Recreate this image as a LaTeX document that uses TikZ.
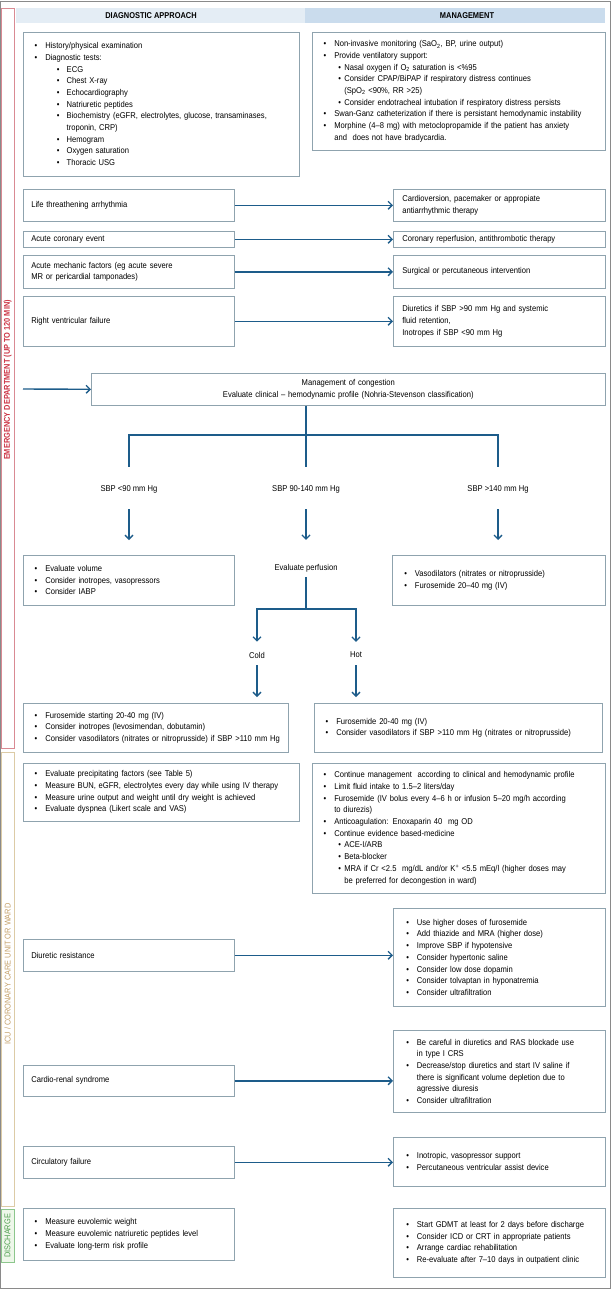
\documentclass[tikz,border=0pt]{standalone}
\usepackage{fontspec}
\setmainfont{Liberation Sans}[FakeStretch=0.9]
\newfontfamily\hdfont{Liberation Sans}[FakeStretch=0.88]
\usetikzlibrary{arrows.meta}
\definecolor{boxc}{HTML}{8FA3AE}
\definecolor{arrc}{HTML}{1D5C8A}
\definecolor{hdl}{HTML}{E4EDF5}
\definecolor{hdr}{HTML}{CADCED}
\definecolor{framec}{HTML}{8A8A8A}
\definecolor{redc}{HTML}{CC3344}
\definecolor{redl}{HTML}{D98A93}
\definecolor{tanc}{HTML}{C4A068}
\definecolor{tanl}{HTML}{DCCBA6}
\definecolor{grc}{HTML}{4E9E4E}
\definecolor{grl}{HTML}{8CC68C}
\definecolor{grbg}{HTML}{EEF7EA}
\newcommand\bodyfont{\fontsize{8.45}{11.67}\selectfont}
\newcommand\itm{\makebox[10.6pt][l]{\textbullet}}
\newcommand\cont{\hspace*{10.6pt}}
\newcommand\sitm{\hspace*{22.2pt}\makebox[9.8pt][l]{\textbullet}}
\newcommand\scont{\hspace*{32pt}}
\newcommand\ritm{\hspace*{14.6pt}\makebox[6pt][l]{\textbullet}}
\newcommand\rscont{\hspace*{20.6pt}}
\tikzset{
  box/.style={draw=boxc, line width=0.6pt, inner ysep=0pt, align=left, font=\bodyfont},
  lbl/.style={inner sep=0pt, font=\bodyfont},
  hd/.style={inner sep=0pt, font=\hdfont\bfseries\fontsize{8.45}{10}\selectfont},
  phase/.style={inner sep=0pt, rotate=90, font=\hdfont\fontsize{8.4}{10}\selectfont},
  conn/.style={draw=arrc, line width=1.4pt},
  arr/.style={conn, -{Straight Barb[length=4pt,width=8pt,line width=1.3pt]}},
}
% #1 opts, #2 name, #3 x1, #4 y1, #5 x2, #6 y2, #7 pad, #8 content
\newcommand\bx[8][]{%
  \pgfmathsetmacro\bxw{#5-(#3)}%
  \pgfmathsetmacro\bxh{#6-(#4)}%
  \pgfmathsetmacro\bxt{#5-(#3)-2*(#7)}%
  \node[box, anchor=north west, inner xsep=#7pt, minimum width=\bxw pt,
        minimum height=\bxh pt, text width=\bxt pt, #1] (#2) at (#3,#4) {#8};}
\begin{document}
\begin{tikzpicture}[x=1pt,y=-1pt]
\useasboundingbox (0,0) rectangle (612,1289);
\fill[white] (0,0) rectangle (612,1289);
% outer frame
\draw[framec, line width=0.8pt] (0.6,1) rectangle (610.6,1288.3);
% header bands
\fill[hdl] (16,8) rectangle (305,23);
\fill[hdr] (305,8) rectangle (605,23);
\node[hd] (h1) at (151,16) {DIAGNOSTIC APPROACH};
\node[hd] (h2) at (467,16) {MANAGEMENT};
% phase brackets
\draw[redl, line width=0.7pt] (1,8) rectangle (14.5,748.5);
\node[phase, text=redc, font=\hdfont\bfseries\fontsize{8.4}{10}\selectfont] (p1) at (7.6,380) {EMERGENCY DEPARTMENT (UP TO 120 MIN)};
\draw[tanl, line width=0.7pt] (1,752) rectangle (14.5,1206);
\node[phase, text=tanc] (p2) at (7.6,974) {ICU / CORONARY CARE UNIT OR WARD};
\draw[grl, line width=0.7pt, fill=grbg] (1,1209) rectangle (14.5,1262);
\node[phase, text=grc] (p3) at (7.6,1236) {DISCHARGE};

% top boxes
\bx{diag}{23}{32}{299}{176}{11.4}{%
\itm History/physical examination\\
\itm Diagnostic tests:\\
\sitm ECG\\
\sitm Chest X-ray\\
\sitm Echocardiography\\
\sitm Natriuretic peptides\\
\sitm Biochemistry (eGFR, electrolytes, glucose, transaminases,\\
\scont troponin, CRP)\\
\sitm Hemogram\\
\sitm Oxygen saturation\\
\sitm Thoracic USG}
\bx{mgmt}{312}{32}{605}{150}{11.4}{%
\itm Non-invasive monitoring (SaO\textsubscript{2}, BP, urine output)\\
\itm Provide ventilatory support:\\
\ritm Nasal oxygen if O\textsubscript{2} saturation is <\%95\\
\ritm Consider CPAP/BiPAP if respiratory distress continues\\
\rscont (SpO\textsubscript{2} <90\%, RR >25)\\
\ritm Consider endotracheal intubation if respiratory distress persists\\
\mbox{\itm Swan-Ganz catheterization if there is persistant hemodynamic instability}\\
\itm Morphine (4--8 mg) with metoclopropamide if the patient has anxiety\\
\cont and\ \ does not have bradycardia.}

% rows
\bx{lt}{23}{189}{234}{221}{8}{Life threathening arrhythmia}
\bx{ltm}{393}{189}{605}{221}{9}{Cardioversion, pacemaker or appropiate\\antiarrhythmic therapy}
\bx{ac}{23}{231}{234}{247}{8}{Acute coronary event}
\bx{acm}{393}{231}{605}{247}{9}{Coronary reperfusion, antithrombotic therapy}
\bx{am}{23}{255}{234}{288}{8}{Acute mechanic factors (eg acute severe\\MR or pericardial tamponades)}
\bx{amm}{393}{255}{605}{288}{9}{Surgical or percutaneous intervention}
\bx{rv}{23}{296}{234}{346}{8}{Right ventricular failure}
\bx{rvm}{393}{296}{605}{346}{9}{Diuretics if SBP >90 mm Hg and systemic\\fluid retention,\\Inotropes if SBP <90 mm Hg}
\draw[arr] (lt.east) -- (ltm.west);
\draw[arr] (ac.east) -- (acm.west);
\draw[arr] (am.east) -- (amm.west);
\draw[arr] (rv.east) -- (rvm.west);

% congestion
\bx[align=center]{cong}{91}{373}{605}{405}{6}{Management of congestion\\Evaluate clinical -- hemodynamic profile (Nohria-Stevenson classification)}
\coordinate (cin) at (23,389);
\draw[arr] (cin) -- (cong.west);

\node[lbl] (s1) at (129,489) {SBP <90 mm Hg};
\node[lbl] (s2) at (306,489) {SBP 90-140 mm Hg};
\node[lbl] (s3) at (498,489) {SBP >140 mm Hg};
\coordinate (j) at (306,435);
\draw[conn] (cong.south -| j) -- (j);
\draw[conn, line cap=rect] (s1 |- j) -- (s3 |- j);
\draw[conn, shorten >=18pt] (s1 |- j) -- (s1.north);
\draw[conn, shorten >=18pt] (j) -- (s2.north);
\draw[conn, shorten >=18pt] (s3 |- j) -- (s3.north);

\bx{vol}{23}{555}{234}{605}{11.4}{%
\itm Evaluate volume\\
\itm Consider inotropes, vasopressors\\
\itm Consider IABP}
\node[lbl] (perf) at (306,568) {Evaluate perfusion};
\bx{vaso}{392}{555}{605}{605}{12}{%
\itm Vasodilators (nitrates or nitroprusside)\\
\itm Furosemide 20--40 mg (IV)}
\draw[arr, shorten <=16pt, shorten >=15pt] (s1.south) -- (s1.south |- vol.north);
\draw[arr, shorten <=16pt, shorten >=24pt] (s2.south) -- (perf.north);
\draw[arr, shorten <=16pt, shorten >=15pt] (s3.south) -- (s3.south |- vaso.north);

\coordinate (k) at (306,609);
\node[lbl] (cold) at (257,655) {Cold};
\node[lbl] (hot) at (356,655) {Hot};
\draw[conn, shorten <=5pt] (perf.south) -- (k);
\draw[conn, line cap=rect] (cold |- k) -- (hot |- k);
\draw[arr, shorten >=10pt] (cold |- k) -- (cold.north);
\draw[arr, shorten >=10pt] (hot |- k) -- (hot.north);

\bx{cb}{23}{703}{288}{752}{11.4}{%
\itm Furosemide starting 20-40 mg (IV)\\
\itm Consider inotropes (levosimendan, dobutamin)\\
\mbox{\itm Consider vasodilators (nitrates or nitroprusside) if SBP >110 mm Hg}}
\bx{hb}{314}{703}{602}{752}{11.4}{%
\itm Furosemide 20-40 mg (IV)\\
\itm Consider vasodilators if SBP >110 mm Hg (nitrates or nitroprusside)}
\draw[arr, shorten <=7pt, shorten >=6pt] (cold.south) -- (cold.south |- cb.north);
\draw[arr, shorten <=7pt, shorten >=6pt] (hot.south) -- (hot.south |- hb.north);

% ICU
\bx{icul}{23}{763}{299}{821}{11.4}{%
\itm Evaluate precipitating factors (see Table 5)\\
\itm Measure BUN, eGFR, electrolytes every day while using IV therapy\\
\itm Measure urine output and weight until dry weight is achieved\\
\itm Evaluate dyspnea (Likert scale and VAS)}
\bx{icur}{312}{763}{605}{893}{11.4}{%
\itm Continue management\ \ according to clinical and hemodynamic profile\\
\itm Limit fluid intake to 1.5--2 liters/day\\
\itm Furosemide (IV bolus every 4--6 h or infusion 5--20 mg/h according\\
\cont to diurezis)\\
\itm Anticoagulation: Enoxaparin 40\ \ mg OD\\
\itm Continue evidence based-medicine\\
\ritm ACE-I/ARB\\
\ritm Beta-blocker\\
\ritm MRA if Cr <2.5\ \ mg/dL and/or K\textsuperscript{+} <5.5 mEq/l (higher doses may\\
\rscont be preferred for decongestion in ward)}

\bx{dr}{23}{939}{234}{971}{8}{Diuretic resistance}
\bx{drm}{393}{908}{605}{1006}{13}{%
\itm Use higher doses of furosemide\\
\itm Add thiazide and MRA (higher dose)\\
\itm Improve SBP if hypotensive\\
\itm Consider hypertonic saline\\
\itm Consider low dose dopamin\\
\itm Consider tolvaptan in hyponatremia\\
\itm Consider ultrafiltration}
\draw[arr] (dr.east) -- (dr.east -| drm.west);

\bx{cr}{23}{1065}{234}{1096}{8}{Cardio-renal syndrome}
\bx{crm}{393}{1030}{605}{1112}{13}{%
\itm Be careful in diuretics and RAS blockade use\\
\cont in type I CRS\\
\itm Decrease/stop diuretics and start IV saline if\\
\cont there is significant volume depletion due to\\
\cont agressive diuresis\\
\itm Consider ultrafiltration}
\draw[arr] (cr.east) -- (cr.east -| crm.west);

\bx{cf}{23}{1146}{234}{1178}{8}{Circulatory failure}
\bx{cfm}{393}{1137}{605}{1186}{13}{%
\itm Inotropic, vasopressor support\\
\itm Percutaneous ventricular assist device}
\draw[arr] (cf.east) -- (cf.east -| cfm.west);

% discharge
\bx{dl}{23}{1208}{234}{1260}{11.4}{%
\itm Measure euvolemic weight\\
\itm Measure euvolemic natriuretic peptides level\\
\itm Evaluate long-term risk profile}
\bx{dm}{393}{1208}{605}{1277}{13}{%
\itm Start GDMT at least for 2 days before discharge\\
\itm Consider ICD or CRT in appropriate patients\\
\itm Arrange cardiac rehabilitation\\
\itm Re-evaluate after 7--10 days in outpatient clinic}
\end{tikzpicture}
\end{document}
